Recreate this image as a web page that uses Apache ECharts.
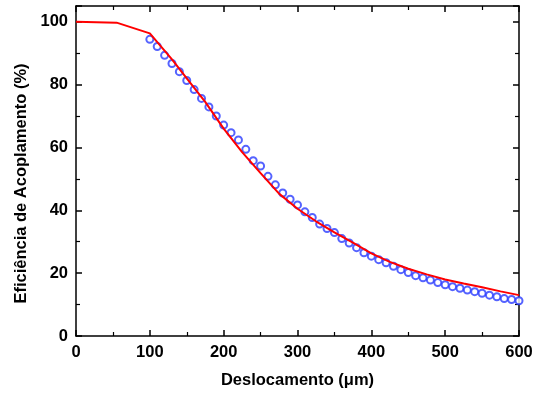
<!DOCTYPE html>
<html>
<head>
<meta charset="utf-8">
<script src="https://cdn.jsdelivr.net/npm/echarts@6/dist/echarts.min.js"></script>
<style>html,body{margin:0;padding:0;background:#fff}#c{width:539px;height:394px}</style>
</head>
<body>
<div id="c"></div>
<script>
var xTitle = 'Deslocamento (\u03bcm)';
var yTitle = 'Efici\u00eancia de Acoplamento (%)';
var fitX = [0, 55, 100, 130, 150, 175, 200, 225, 250, 275, 300, 325, 350, 375, 400, 425, 450, 475, 500, 525, 550, 575, 600];
var fitY = [100, 99.7, 96.3, 88, 82, 74.5, 66, 58.5, 51.8, 45.3, 40.5, 36.5, 33, 29.7, 26.3, 23.6, 21.4, 19.6, 18.0, 16.7, 15.5, 14.2, 13.0];
var measX = [100,110,120,130,140,150,160,170,180,190,200,210,220,230,240,250,260,270,280,290,300,310,320,330,340,350,360,370,380,390,400,410,420,430,440,450,460,470,480,490,500,510,520,530,540,550,560,570,580,590,600];
var measY = [94.4,92.1,89.3,86.7,84.1,81.3,78.4,75.6,72.9,70.0,67.1,64.7,62.4,59.4,55.8,54.1,50.8,48.1,45.5,43.5,41.7,39.5,37.7,35.6,34.2,32.9,31.0,29.6,28.1,26.5,25.4,24.3,23.3,22.2,21.1,20.2,19.2,18.5,17.8,17.0,16.3,15.7,15.2,14.6,14.1,13.6,13.0,12.5,11.9,11.6,11.2];

function zip(a, b) { return a.map(function (v, i) { return [v, b[i]]; }); }

var FS = 16.5;
var axisFont = { fontFamily: 'Liberation Sans', fontWeight: 'bold', fontSize: FS, color: '#000' };
var lineStyle = { color: '#000', width: 1.5 };
var minor = { show: true, splitNumber: 2, length: 4, lineStyle: { color: '#000', width: 1.2 } };
var major = { show: true, inside: true, length: 6, lineStyle: lineStyle };

var chart = echarts.init(document.getElementById('c'));
chart.setOption({
  animation: false,
  backgroundColor: '#fff',
  grid: { left: 76, right: 20, top: 6, bottom: 58 },
  xAxis: [{
    type: 'value', min: 0, max: 600, interval: 100, position: 'bottom',
    name: xTitle, nameLocation: 'middle', nameGap: 36,
    nameTextStyle: { fontFamily: 'Liberation Sans', fontWeight: 'bold', fontSize: FS, color: '#000' },
    axisLine: { show: true, onZero: false, lineStyle: lineStyle },
    axisTick: major,
    minorTick: minor,
    axisLabel: Object.assign({ margin: 8 }, axisFont),
    splitLine: { show: false }
  }, {
    type: 'value', min: 0, max: 600, interval: 100, position: 'top',
    axisLine: { show: true, onZero: false, lineStyle: lineStyle },
    axisTick: major,
    minorTick: minor,
    axisLabel: { show: false },
    splitLine: { show: false }
  }],
  yAxis: [{
    type: 'value', min: 0, max: 105, interval: 20, position: 'left',
    name: yTitle, nameLocation: 'middle', nameGap: 42, nameRotate: 90,
    nameTextStyle: { fontFamily: 'Liberation Sans', fontWeight: 'bold', fontSize: FS, color: '#000', padding: [0, 25, 0, 0] },
    axisLine: { show: true, onZero: false, lineStyle: lineStyle },
    axisTick: major,
    minorTick: minor,
    axisLabel: Object.assign({ margin: 8, formatter: function (v) { return v % 20 === 0 ? String(v) : ''; } }, axisFont),
    splitLine: { show: false }
  }, {
    type: 'value', min: 0, max: 105, interval: 20, position: 'right',
    axisLine: { show: true, onZero: false, lineStyle: lineStyle },
    axisTick: major,
    minorTick: minor,
    axisLabel: { show: false },
    splitLine: { show: false }
  }],
  series: [{
    type: 'scatter',
    data: zip(measX, measY),
    symbol: 'emptyCircle',
    symbolSize: 7,
    itemStyle: { color: '#2a3cff', borderColor: '#2a3cff', borderWidth: 1 },
    z: 2
  }, {
    type: 'line',
    data: zip(fitX, fitY),
    showSymbol: false,
    symbol: 'none',
    smooth: false,
    lineStyle: { color: '#ff0000', width: 2 },
    z: 3
  }]
});
</script>
</body>
</html>
